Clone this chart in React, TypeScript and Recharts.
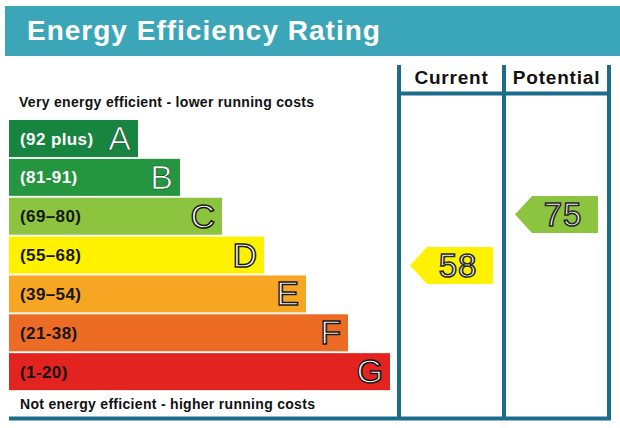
import { Bar, ComposedChart, Scatter, XAxis, YAxis } from "recharts";

const bands = ["A", "B", "C", "D", "E", "F", "G"];
const bandRanges = ["(92 plus)", "(81-91)", "(69–80)", "(55–68)", "(39–54)", "(21-38)", "(1-20)"];
const bandMin = [92, 81, 69, 55, 39, 21, 1];
const bandMax = [100, 91, 80, 68, 54, 38, 20];
const barLengths = [21.5, 28.5, 35.5, 42.5, 49.5, 56.5, 63.5];
const bandColors = ["#17843f", "#23963f", "#8cc43f", "#fff200", "#f6a623", "#ec6c25", "#e2231f"];
const rangeTextColors = ["#ffffff", "#ffffff", "#151515", "#151515", "#151515", "#151515", "#151515"];

const columns = ["Current", "Potential"];
const ratings = [58, 75];

const FONT = "'Liberation Sans', Arial, sans-serif";
const FRAME = "#1c6d8c";

const bandData = bands.map((band, i) => ({
  band,
  range: bandRanges[i],
  length: barLengths[i],
  color: bandColors[i],
  textColor: rangeTextColors[i],
}));

function bandIndexOf(rating: number) {
  return bandMin.findIndex((min, i) => rating >= min && rating <= bandMax[i]);
}

// position inside the band, counted in bands from the bottom
const arrowData = ratings.map((rating, i) => {
  const b = bandIndexOf(rating);
  const frac = (rating - bandMin[b]) / (bandMax[b] - bandMin[b]);
  return {
    col: i + 0.5,
    pos: bands.length - 1 - b + frac,
    value: rating,
    color: bandColors[b],
  };
});

function BandBar(props: any) {
  const { x, y, width, height, payload } = props;
  const dark = payload.band === "A" || payload.band === "B";
  return (
    <g>
      <rect x={x} y={y} width={width} height={height} fill={payload.color} />
      <text
        x={x + 11}
        y={y + height / 2 + 6}
        fill={payload.textColor}
        fontFamily={FONT}
        fontWeight="bold"
        fontSize={17}
        letterSpacing={0.4}
      >
        {payload.range}
      </text>
      <text
        x={x + width - 7}
        y={y + 30}
        textAnchor="end"
        fill="#ffffff"
        stroke={dark ? "#0d4d24" : "#1a1a1a"}
        strokeWidth={dark ? 0.7 : 1.5}
        fontFamily={FONT}
        fontSize={34}
      >
        {payload.band}
      </text>
    </g>
  );
}

function RatingArrow(props: any) {
  const { cx, cy, payload } = props;
  const half = 41.5;
  const h = 18.5;
  const points = [
    [cx - half, cy],
    [cx - half + 17, cy - h],
    [cx + half, cy - h],
    [cx + half, cy + h],
    [cx - half + 17, cy + h],
  ]
    .map((p) => p.join(","))
    .join(" ");
  return (
    <g>
      <polygon points={points} fill={payload.color} />
      <text
        x={cx + 6.5}
        y={cy + 12}
        textAnchor="middle"
        fill="#ffffff"
        stroke="#2a2a2a"
        strokeWidth={1.6}
        fontFamily={FONT}
        fontSize={33}
        letterSpacing={1}
      >
        {payload.value}
      </text>
    </g>
  );
}

function Frame() {
  return (
    <svg width={620} height={428} style={{ position: "absolute", left: 0, top: 0 }}>
      <rect x={5} y={6} width={615} height={50} fill="#3ba6b7" />
      <text x={27} y={40} fill="#ffffff" fontFamily={FONT} fontWeight="bold" fontSize={28} letterSpacing={1}>
        Energy Efficiency Rating
      </text>
      <text x={19} y={107} fill="#111" fontFamily={FONT} fontWeight="bold" fontSize={14} letterSpacing={0.3}>
        Very energy efficient - lower running costs
      </text>
      <text x={20} y={409} fill="#111" fontFamily={FONT} fontWeight="bold" fontSize={14} letterSpacing={0.3}>
        Not energy efficient - higher running costs
      </text>
      <line x1={399} y1={65} x2={399} y2={420} stroke={FRAME} strokeWidth={4} />
      <line x1={504} y1={65} x2={504} y2={420} stroke={FRAME} strokeWidth={4} />
      <line x1={609} y1={65} x2={609} y2={420} stroke={FRAME} strokeWidth={4} />
      <line x1={399} y1={93.5} x2={609} y2={93.5} stroke={FRAME} strokeWidth={4} />
      <line x1={9} y1={418.5} x2={611} y2={418.5} stroke={FRAME} strokeWidth={4} />
      {columns.map((c, i) => (
        <text
          key={c}
          x={451.5 + i * 105}
          y={84}
          textAnchor="middle"
          fill="#111"
          fontFamily={FONT}
          fontWeight="bold"
          fontSize={19}
          letterSpacing={0.8}
        >
          {c}
        </text>
      ))}
    </svg>
  );
}

export default function App() {
  return (
    <div style={{ position: "absolute", left: 0, top: 0, width: 620, height: 428, background: "#fff" }}>
      <Frame />
      <div style={{ position: "absolute", left: 0, top: 0 }}>
        <ComposedChart
          layout="vertical"
          width={620}
          height={428}
          data={bandData}
          margin={{ top: 119, right: 11, bottom: 37, left: 9 }}
        >
          <XAxis xAxisId="len" type="number" domain={[0, 100]} hide />
          <XAxis xAxisId="col" type="number" dataKey="col" domain={[0, 2]} padding={{ left: 390, right: 0 }} hide />
          <YAxis yAxisId="band" type="category" dataKey="band" hide />
          <YAxis yAxisId="pos" type="number" dataKey="pos" domain={[0, 7]} reversed hide />
          <Bar
            xAxisId="len"
            yAxisId="band"
            dataKey="length"
            barSize={37}
            shape={<BandBar />}
            isAnimationActive={false}
          />
          <Scatter
            xAxisId="col"
            yAxisId="pos"
            data={arrowData}
            shape={<RatingArrow />}
            isAnimationActive={false}
          />
        </ComposedChart>
      </div>
    </div>
  );
}
